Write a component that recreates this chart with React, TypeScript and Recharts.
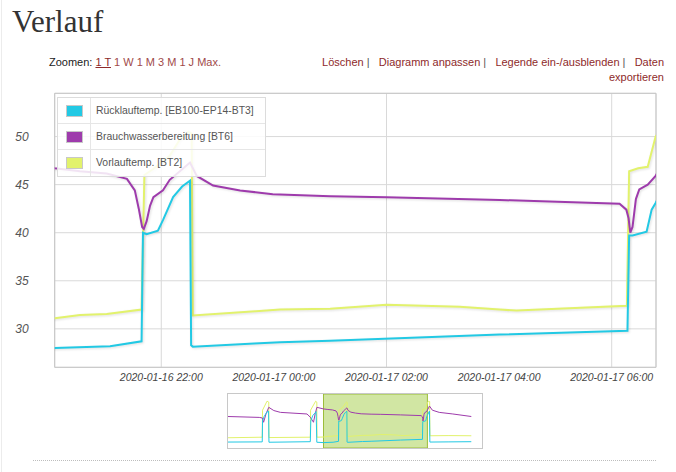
import React from 'react';
import { LineChart, Line, XAxis, YAxis, CartesianGrid, ReferenceArea } from 'recharts';

// Zeit in Stunden ab 2020-01-16 00:00
const ruecklaufZeit = [10.29, 13.81, 13.84, 14.0, 14.3, 14.46, 14.5, 18.75, 18.8, 19.0, 19.35, 19.42, 20.11, 21.09, 21.65, 21.675, 21.74, 21.94, 22.03, 22.21, 22.37, 22.51, 22.53, 22.56, 24.11, 25.0, 28.01, 30.28, 30.31, 30.37, 30.62, 30.71, 30.78, 30.95, 31.0, 31.04, 33.0, 35.3];
const ruecklaufWert = [28.3, 28.4, 40.0, 42.5, 45.0, 45.5, 28.2, 28.5, 40.0, 43.0, 45.2, 28.2, 28.0, 28.2, 28.7, 40.0, 39.85, 40.2, 41.3, 43.7, 44.8, 45.4, 28.3, 28.15, 28.6, 28.75, 29.4, 29.8, 39.7, 39.7, 40.1, 42.4, 43.1, 45.0, 45.5, 28.3, 28.4, 28.5];

const brauchwasserZeit = [10.29, 13.5, 13.81, 13.95, 14.2, 14.48, 15.0, 15.68, 18.41, 18.75, 19.08, 19.25, 19.43, 20.11, 20.556, 21.03, 21.39, 21.53, 21.6, 21.66, 21.69, 21.74, 21.8, 21.86, 22.03, 22.15, 22.33, 22.51, 22.63, 22.92, 23.4, 23.98, 25.0, 26.0, 28.01, 30.14, 30.26, 30.3, 30.33, 30.37, 30.43, 30.49, 30.64, 30.78, 31.0, 31.3, 32.0, 33.4, 35.3];
const brauchwasserWert = [42.5, 42.0, 41.7, 39.3, 44.0, 47.6, 45.8, 44.8, 43.9, 42.1, 39.3, 44.0, 47.6, 46.7, 46.4, 46.15, 45.6, 44.4, 42.5, 40.6, 40.4, 41.2, 42.8, 43.7, 44.4, 45.5, 46.4, 47.3, 45.9, 44.9, 44.4, 44.0, 43.8, 43.7, 43.4, 43.0, 42.4, 41.5, 40.0, 40.6, 43.5, 44.5, 45.0, 45.9, 48.3, 46.0, 44.8, 43.9, 42.5];

const vorlaufZeit = [10.29, 13.81, 13.84, 14.3, 14.48, 14.5, 18.75, 18.78, 19.3, 19.42, 19.44, 20.11, 20.556, 21.03, 21.65, 21.7, 21.85, 22.15, 22.33, 22.48, 22.54, 22.56, 24.11, 25.0, 26.0, 27.3, 28.01, 28.31, 30.27, 30.31, 30.47, 30.64, 30.78, 30.9, 31.02, 31.05, 33.0, 35.3];
const vorlaufWert = [30.7, 31.0, 46.0, 51.0, 50.5, 30.8, 31.0, 46.0, 51.0, 50.5, 31.0, 31.1, 31.45, 31.55, 32.0, 46.0, 46.6, 48.0, 49.7, 50.5, 50.3, 31.4, 32.0, 32.1, 32.5, 32.3, 32.0, 31.9, 32.4, 46.4, 46.7, 46.85, 50.0, 51.0, 50.8, 31.8, 31.9, 31.8];

const yTicks = [30, 35, 40, 45, 50];
const xTicks = [22, 24, 26, 28, 30];
const xTickLabels = ['2020-01-16 22:00', '2020-01-17 00:00', '2020-01-17 02:00', '2020-01-17 04:00', '2020-01-17 06:00'];

const viewStart = 20.107;
const viewEnd = 30.787;

const zip = (t: number[], v: number[]) => t.map((x, i) => ({ t: x, v: v[i] }));

const series = [
  { name: 'Rücklauftemp. [EB100-EP14-BT3]', color: '#22c9e4', data: zip(ruecklaufZeit, ruecklaufWert) },
  { name: 'Brauchwasserbereitung [BT6]', color: '#9e3bac', data: zip(brauchwasserZeit, brauchwasserWert) },
  { name: 'Vorlauftemp. [BT2]', color: '#e2f26c', data: zip(vorlaufZeit, vorlaufWert) },
];
// draw order: yellow under the others
const drawOrder = [2, 1, 0];

const sans = '"Liberation Sans", Arial, sans-serif';
const linkRed = '#8e2a2a';
const sep = '\u00a0|\u00a0\u00a0\u00a0';

const App: React.FC = () => {
  return (
    <div style={{ position: 'absolute', left: 0, top: 0, width: 676, height: 472, background: '#fff', fontFamily: sans, overflow: 'hidden' }}>
      <style>{`.main-chart .recharts-line-curve { filter: drop-shadow(1px 1px 1px rgba(0,0,0,0.13)); }`}</style>
      <div style={{ position: 'absolute', left: 1, top: 0, width: 1, height: 472, background: '#ececec' }} />

      <div style={{ position: 'absolute', left: 12, top: 6, fontFamily: '"Liberation Serif", serif', fontSize: 31, lineHeight: 1, color: '#333' }}>
        Verlauf
      </div>

      <div style={{ position: 'absolute', left: 49, top: 55, fontSize: 11, lineHeight: '15px', color: '#222', whiteSpace: 'nowrap' }}>
        Zoomen: <span style={{ color: linkRed, textDecoration: 'underline' }}>1 T</span>{' '}
        <span style={{ color: '#a04a4a' }}>1 W 1 M 3 M 1 J Max.</span>
      </div>

      <div style={{ position: 'absolute', right: 12, top: 55, fontSize: 11, lineHeight: '15px', textAlign: 'right', whiteSpace: 'nowrap', color: '#555' }}>
        <div>
          <span style={{ color: linkRed }}>Löschen</span>{sep}<span style={{ color: linkRed }}>Diagramm anpassen</span>{sep}
          <span style={{ color: linkRed }}>Legende ein-/ausblenden</span>{sep}<span style={{ color: linkRed }}>Daten</span>
        </div>
        <div style={{ color: linkRed }}>exportieren</div>
      </div>

      <div className="main-chart" style={{ position: 'absolute', left: 0, top: 80 }}>
        <LineChart width={676} height={310} margin={{ top: 13.3, right: 20, bottom: 2.7, left: 0 }}>
          <CartesianGrid stroke="#d9d9d9" />
          <XAxis
            dataKey="t"
            type="number"
            domain={[viewStart, viewEnd]}
            allowDataOverflow
            ticks={xTicks}
            tickFormatter={(h: number) => xTickLabels[xTicks.indexOf(h)] ?? ''}
            axisLine={false}
            tickLine={false}
            tickSize={0}
            tickMargin={6}
            height={20}
            tick={{ fill: '#444', fontSize: 10.5, fontStyle: 'italic', fontFamily: sans }}
          />
          <YAxis
            type="number"
            domain={[26, 54.5]}
            allowDataOverflow
            ticks={yTicks}
            axisLine={false}
            tickLine={false}
            tickSize={0}
            tickMargin={26}
            width={54.7}
            tick={{ fill: '#555', fontSize: 12, fontStyle: 'italic', fontFamily: sans }}
          />
          <ReferenceArea x1={viewStart} x2={viewEnd} y1={26} y2={54.5} fill="none" stroke="#c6c6c6" />
          {drawOrder.map(i => (
            <Line
              key={series[i].name}
              data={series[i].data}
              dataKey="v"
              type="linear"
              stroke={series[i].color}
              strokeWidth={2}
              dot={false}
              activeDot={false}
              isAnimationActive={false}
            />
          ))}
        </LineChart>
      </div>

      <div style={{ position: 'absolute', left: 57, top: 97, width: 209, height: 80, boxSizing: 'border-box', border: '1px solid #dcdcdc', background: 'rgba(255,255,255,0.86)' }}>
        {series.map((s, i) => (
          <div key={s.name} style={{ display: 'flex', height: 26, boxSizing: 'border-box', borderBottom: i < 2 ? '1px solid #e6e6e6' : 'none' }}>
            <div style={{ width: 32, borderRight: '1px solid #e6e6e6', display: 'flex', alignItems: 'center', justifyContent: 'center' }}>
              <div style={{ width: 15, height: 10, background: s.color, border: '1px solid #c8c8c8' }} />
            </div>
            <div style={{ paddingLeft: 5, fontSize: 10.4, lineHeight: '26px', color: '#555', whiteSpace: 'nowrap' }}>{s.name}</div>
          </div>
        ))}
      </div>

      <div style={{ position: 'absolute', left: 227, top: 393, width: 256, height: 56, boxSizing: 'border-box', border: '1px solid #c8c8c8', background: '#fff' }}>
        <LineChart width={254} height={54} margin={{ top: 0, right: 0, bottom: 0, left: 0 }}>
          <XAxis dataKey="t" type="number" domain={[10.29, 36.4]} hide />
          <YAxis type="number" domain={[25, 55]} hide />
          {drawOrder.map(i => (
            <Line
              key={series[i].name}
              data={series[i].data}
              dataKey="v"
              type="linear"
              stroke={series[i].color}
              strokeWidth={1}
              dot={false}
              activeDot={false}
              isAnimationActive={false}
            />
          ))}
          <ReferenceArea x1={viewStart} x2={viewEnd} fill="#b3d565" fillOpacity={0.6} stroke="#9cbd3a" strokeWidth={1} />
        </LineChart>
      </div>

      <div style={{ position: 'absolute', left: 33, top: 460, width: 623, borderTop: '1px dotted #bdbdbd' }} />
    </div>
  );
};

export default App;
